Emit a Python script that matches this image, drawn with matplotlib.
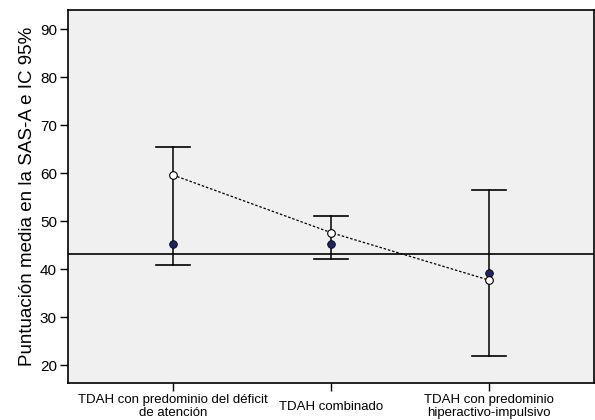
import numpy as np
import matplotlib
matplotlib.use('Agg')
import matplotlib.pyplot as plt

plt.rcParams['font.family'] = ['Liberation Sans', 'DejaVu Sans']

grupos = ['TDAH con predominio del déficit\nde atención', 'TDAH combinado',
          'TDAH con predominio\nhiperactivo-impulsivo']
media_abierta = [59.6, 47.6, 37.7]
media_llena = [45.3, 45.3, 39.2]
ic_sup = [65.5, 51.1, 56.5]
ic_inf = [40.9, 42.2, 21.9]
referencia = 43.2

x = np.arange(len(grupos))

fig = plt.figure(figsize=(5.95, 4.2), dpi=100)
ax = fig.add_axes([68/595, 1 - 383/420, 526/595, 373/420])
ax.set_facecolor('#f0f0f0')

ax.axhline(referencia, color='black', lw=1.2, zorder=1)
for i in x:
    ax.plot([i, i], [ic_inf[i], ic_sup[i]], color='black', lw=1.1, zorder=2)
    ax.plot([i - 0.11, i + 0.11], [ic_sup[i], ic_sup[i]], color='black', lw=1.2, zorder=2)
    ax.plot([i - 0.11, i + 0.11], [ic_inf[i], ic_inf[i]], color='black', lw=1.2, zorder=2)
ax.plot(x, media_abierta, color='black', ls=(0, (2, 1.5)), lw=0.9, zorder=3)
ax.plot(x, media_llena, 'o', color='#1c2466', mec='black', mew=0.6, ms=5.5, zorder=4)
ax.plot(x, media_abierta, 'o', color='white', mec='black', mew=0.8, ms=5.5, zorder=5)

ax.set_xlim(-0.665, 2.665)
ax.set_ylim(16.25, 94)
ax.set_yticks([20, 30, 40, 50, 60, 70, 80, 90])
ax.set_xticks(x)
ax.set_xticklabels(grupos, fontsize=9.5, linespacing=1.05, va='center')
ax.tick_params(axis='y', labelsize=11, length=6, width=1, pad=2)
ax.tick_params(axis='x', length=6, width=1, pad=11)
ax.set_ylabel('Puntuación media en la SAS-A e IC 95%', fontsize=13.5, labelpad=3)
for s in ax.spines.values():
    s.set_linewidth(1.2)

fig.savefig('out.png', dpi=100)
